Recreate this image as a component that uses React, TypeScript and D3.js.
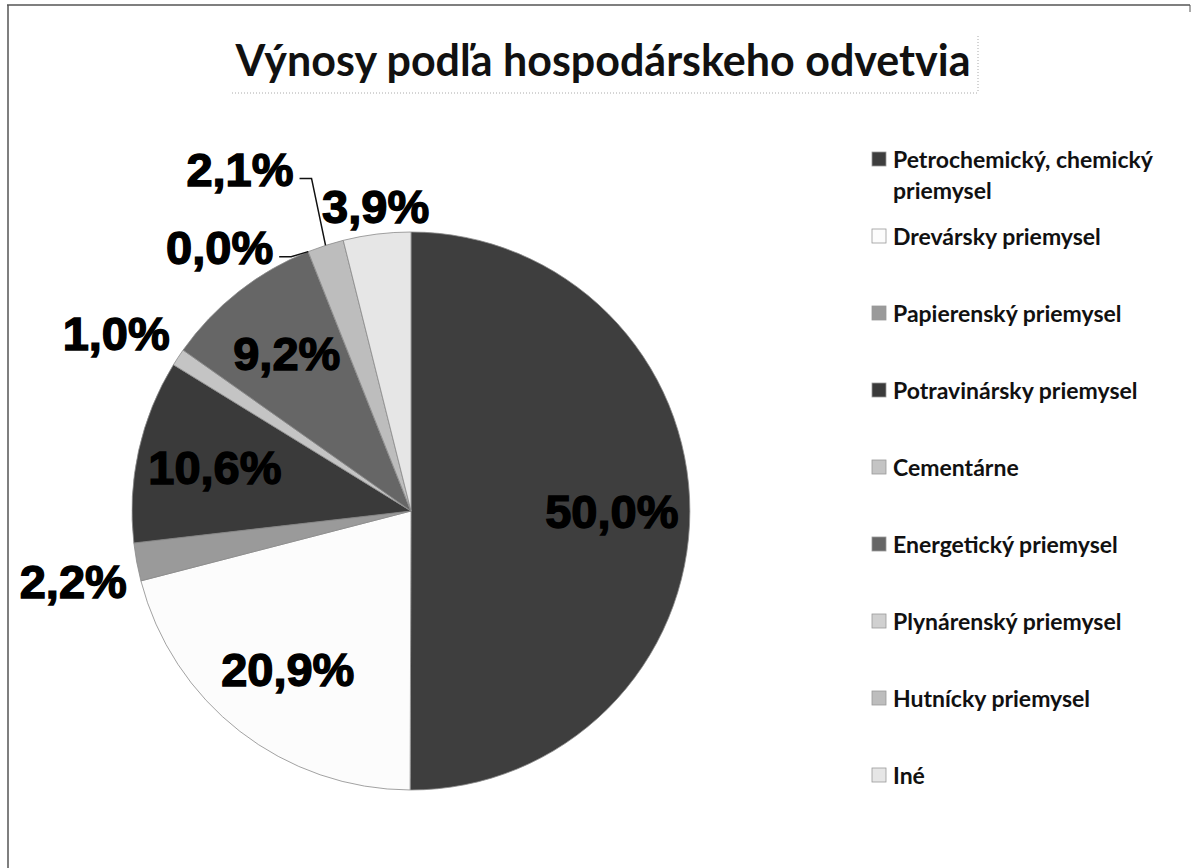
import React from 'react';
import * as d3 from 'd3';

// údaje z grafu (podiel v %)
const categories = [
  'Petrochemický, chemický priemysel',
  'Drevársky priemysel',
  'Papierenský priemysel',
  'Potravinársky priemysel',
  'Cementárne',
  'Energetický priemysel',
  'Plynárenský priemysel',
  'Hutnícky priemysel',
  'Iné',
];
const shares = [50.0, 20.9, 2.2, 10.6, 1.0, 9.2, 0.0, 2.1, 3.9];
const legendLines = [
  ['Petrochemický, chemický', 'priemysel'],
  ['Drevársky priemysel'],
  ['Papierenský priemysel'],
  ['Potravinársky priemysel'],
  ['Cementárne'],
  ['Energetický priemysel'],
  ['Plynárenský priemysel'],
  ['Hutnícky priemysel'],
  ['Iné'],
];
const title = 'Výnosy podľa hospodárskeho odvetvia';

// štýl
const grays = ['#3e3e3e', '#fcfcfc', '#9a9a9a', '#3a3a3a', '#c4c4c4', '#666666', '#d0d0d0', '#bdbdbd', '#e6e6e6'];
const leaderNudge: Record<string, [number, number]> = {
  'Plynárenský priemysel': [-35, -4],
  'Hutnícky priemysel': [-32, -76],
};

const W = 1194;
const H = 868;
const cx = 411;
const cy = 511;
const R = 279;

const fmt = (v: number) => d3.format('.1f')(v).replace('.', ',') + '%';

const App = () => {
  const arcs = d3.pie<number>().sort(null).value(d => d)(shares);
  const arc = d3.arc<d3.PieArcDatum<number>>().innerRadius(0).outerRadius(R);
  const inner = d3.arc<d3.PieArcDatum<number>>().innerRadius(R * 0.72).outerRadius(R * 0.72);

  const labelFont = { fontFamily: '"Liberation Sans", Arial, sans-serif', fontWeight: 700, fontSize: 47 };
  const legendY = d3.scaleLinear().domain([0, categories.length - 1]).range([159, 775]);

  const labels = arcs.map((d, i) => {
    const text = fmt(d.data);
    if (d.data >= 5) {
      const [x, y] = inner.centroid(d);
      return { text, x: cx + x, y: cy + y, anchor: 'middle', leader: null as null | string };
    }
    const mid = (d.startAngle + d.endAngle) / 2;
    const sx = Math.sin(mid);
    const sy = -Math.cos(mid);
    const edge: [number, number] = [cx + R * sx, cy + R * sy];
    const nudge = leaderNudge[categories[i]];
    if (nudge) {
      const x = edge[0] + nudge[0];
      const y = edge[1] + nudge[1];
      const path = d3.line()([[x + 6, y + 9], [x + 18, y + 9], edge]);
      return { text, x, y, anchor: 'end', leader: path };
    }
    const px = cx + (R + 10) * sx;
    const py = cy + (R + 10) * sy;
    const anchor = sx < -0.2 ? 'end' : sx > 0.2 ? 'start' : 'middle';
    const y = sy > 0.1 ? py + 18 : sy < -0.1 ? py - 18 : py;
    return { text, x: px, y, anchor, leader: null };
  });

  return (
    <svg width={W} height={H} style={{ position: 'absolute', left: 0, top: 0, background: '#fff' }}>
      {/* rám */}
      <line x1={7} y1={5} x2={1190} y2={5} stroke="#555" strokeWidth={1.5} />
      <line x1={8} y1={5} x2={8} y2={H} stroke="#555" strokeWidth={1.5} />
      <line x1={1190} y1={5} x2={1190} y2={12} stroke="#555" strokeWidth={1} />

      {/* titulok */}
      <text x={603} y={76} textAnchor="middle" fontFamily="Lato, 'Open Sans', sans-serif" fontWeight={700} fontSize={43} fill="#111">
        {title}
      </text>
      <line x1={232} y1={93} x2={978} y2={93} stroke="#aaa" strokeDasharray="1 2" />
      <line x1={978} y1={36} x2={978} y2={93} stroke="#aaa" strokeDasharray="1 2" />

      {/* koláč */}
      <g transform={`translate(${cx},${cy})`}>
        {arcs.map((d, i) => (
          <path key={categories[i]} d={arc(d) || ''} fill={grays[i]} stroke="#8a8a8a" strokeWidth={0.8} />
        ))}
      </g>

      {labels.map((l, i) => (
        <g key={'lab' + i}>
          {l.leader && <path d={l.leader} fill="none" stroke="#111" strokeWidth={1.5} />}
          <text
            x={l.x}
            y={l.y}
            textAnchor={l.anchor}
            dominantBaseline="central"
            {...labelFont}
            fill="#000"
            stroke="#000"
            strokeWidth={1.4}
          >
            {l.text}
          </text>
        </g>
      ))}

      {/* legenda */}
      {categories.map((c, i) => (
        <g key={'leg' + c} transform={`translate(872,${legendY(i)})`}>
          <rect x={0} y={-7} width={14} height={14} fill={grays[i]} stroke="#999" strokeWidth={0.8} />
          <text x={21} y={0} dominantBaseline="central" fontFamily="Lato, 'Open Sans', sans-serif" fontWeight={700} fontSize={23} fill="#111">
            {legendLines[i].map((ln, j) => (
              <tspan key={j} x={21} dy={j === 0 ? 0 : 31}>{ln}</tspan>
            ))}
          </text>
        </g>
      ))}
    </svg>
  );
};

export default App;
